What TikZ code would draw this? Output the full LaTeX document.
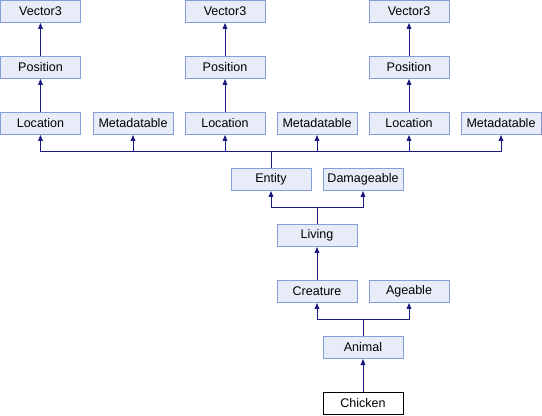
\documentclass[tikz,border=0pt]{standalone}
\usepackage{fontspec}
\setmainfont{Liberation Sans}
\usepackage{tikz}
\usetikzlibrary{arrows.meta}
\definecolor{boxfill}{RGB}{232,236,248}
\definecolor{boxline}{RGB}{132,158,218}
\definecolor{linkblue}{RGB}{26,26,128}

\begin{document}
\begin{tikzpicture}[x=0.75pt,y=-0.75pt]
			\tikzstyle{cls}=[draw=boxline, fill=boxfill, line width=0.75pt, minimum width=60pt, minimum height=16.5pt, inner sep=0pt, font=\fontsize{9.4}{11}\selectfont]
			\tikzstyle{leaf}=[cls, draw=black, fill=white]
			\tikzstyle{link}=[draw=linkblue, line width=0.75pt]
			\tikzstyle{inh}=[link, -{Triangle[width=3.6pt,length=4.5pt]}]
			
			\useasboundingbox (0,0) rectangle (542,416);
			
			\node[cls] (vecA) at (40.5,11.5) {Vector3};
			\node[cls] (vecB) at (225,11.5) {Vector3};
			\node[cls] (vecC) at (409,11.5) {Vector3};
			\node[cls] (posA) at (40.5,67.5) {Position};
			\node[cls] (posB) at (225,67.5) {Position};
			\node[cls] (posC) at (409,67.5) {Position};
			\node[cls] (locA) at (40.5,123.5) {Location};
			\node[cls] (metaA) at (133,123.5) {Metadatable};
			\node[cls] (locB) at (225,123.5) {Location};
			\node[cls] (metaB) at (317,123.5) {Metadatable};
			\node[cls] (locC) at (409,123.5) {Location};
			\node[cls] (metaC) at (501,123.5) {Metadatable};
			\node[cls] (entity) at (271,179.5) {Entity};
			\node[cls] (damage) at (363,179.5) {Damageable};
			\node[cls] (living) at (317,235.5) {Living};
			\node[cls] (creature) at (317,291.5) {Creature};
			\node[cls] (ageable) at (409,291.5) {Ageable};
			\node[cls] (animal) at (363,347.5) {Animal};
			\node[leaf] (chicken) at (363,403.5) {Chicken};
			
			\coordinate (busEntity) at (271,152);
			\coordinate (busLiving) at (317,208);
			\coordinate (busAnimal) at (363,320);
			
			\draw[inh] (posA) -- (vecA);
			\draw[inh] (posB) -- (vecB);
			\draw[inh] (posC) -- (vecC);
			\draw[inh] (locA) -- (posA);
			\draw[inh] (locB) -- (posB);
			\draw[inh] (locC) -- (posC);
			
			\draw[link] (entity.north) -- (busEntity);
			\foreach \p in {locA,metaA,locB,metaB,locC,metaC}
				\draw[inh] (busEntity) -| (\p.south);
			
			\draw[link] (living.north) -- (busLiving);
			\draw[inh] (busLiving) -| (entity.south);
			\draw[inh] (busLiving) -| (damage.south);
			
			\draw[inh] (creature) -- (living);
			
			\draw[link] (animal.north) -- (busAnimal);
			\draw[inh] (busAnimal) -| (creature.south);
			\draw[inh] (busAnimal) -| (ageable.south);
			
			\draw[inh] (chicken) -- (animal);
\end{tikzpicture}
\end{document}
